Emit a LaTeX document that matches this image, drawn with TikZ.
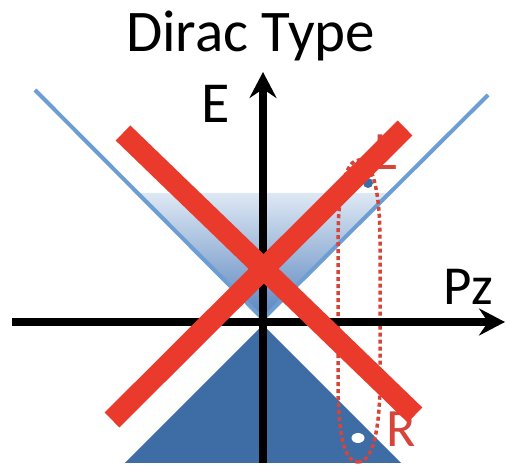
\documentclass[tikz,border=0pt]{standalone}
\usepackage{fontspec}
\setmainfont{Carlito}
\usetikzlibrary{
  arrows.meta  % 坐标轴箭头
}
\definecolor{conelight}{RGB}{108,158,212}
\definecolor{conedark}{RGB}{62,109,166}
\definecolor{conetop}{RGB}{222,232,244}
\definecolor{conemid}{RGB}{88,132,190}
\definecolor{crossred}{RGB}{234,58,44}
\definecolor{ringred}{RGB}{214,68,58}
\tikzset{
  axis line/.style={
    -{Stealth[length=26pt,width=27pt,inset=9pt]},
    line width=8pt,
    color=black
  },
  cone edge/.style={
    line width=4pt,
    color=conelight
  },
  cross bar/.style={
    line width=21pt,
    color=crossred
  },
  ring path/.style={
    color=ringred,
    line width=3.5pt,
    dash pattern=on 4pt off 3pt
  },
  axis label/.style={
    inner sep=0pt,
    anchor=base west
  },
  point label/.style={
    inner sep=0pt,
    anchor=base west,
    color=ringred,
    font=\fontsize{54}{60}\selectfont
  }
}

\begin{document}
\begin{tikzpicture}[x=1pt, y=1pt]
    \useasboundingbox (0,0) rectangle (509,465);

    % 1. 上锥面 (渐变填充) 与下锥面
    \shade[top color=conetop, bottom color=conemid]
      (263,146) -- (137,272) -- (389,272) -- cycle;
    \fill[conedark] (263,140) -- (125,2) -- (401,2) -- cycle;

    % 锥面边线
    \coordinate (apex) at (263,146);
    \coordinate (edgeL) at (35,375);
    \coordinate (edgeR) at (488,370);
    \draw[cone edge] (edgeL) -- (apex) -- (edgeR);

    % 点 L 与 R 的标记
    \fill[conedark] (368,282) circle (5);
    \fill[white] (358,27) ellipse [x radius=6.5, y radius=5];

    % 2. 虚线圈 (上端藏在红叉下)
    \draw[ring path] (358,3) .. controls (375,3) and (380,45) .. (380,85)
      -- (380,225) .. controls (380,275) and (372,305) .. (359,305)
      .. controls (346,305) and (338,275) .. (338,225)
      -- (338,85) .. controls (338,45) and (341,3) .. cycle;

    % 3. 坐标轴
    \coordinate (xstart) at (12,143);
    \coordinate (xend) at (505,143);
    \coordinate (ystart) at (263,2);
    \coordinate (yend) at (263,393);
    \draw[axis line] (xstart) -- (xend);
    \draw[axis line] (ystart) -- (yend);

    \node[axis label, font=\fontsize{59}{62}\selectfont] (title) at (126,413) {Dirac Type};
    \node[axis label, font=\fontsize{58}{60}\selectfont] (elabel) at (201,342) {E};
    \node[axis label, font=\fontsize{55}{60}\selectfont] (pzlabel) at (443,160) {Pz};

    % 点标签 (部分被红叉遮住)
    \node[point label] (llabel) at (374,295) {L};
    \node[point label] (rlabel) at (386,18) {R};

    % 4. 红色大叉
    \coordinate (barA1) at (123,332);
    \coordinate (barA2) at (415,50);
    \coordinate (barB1) at (112,45);
    \coordinate (barB2) at (405,337);
    \draw[cross bar] (barA1) -- (barA2);
    \draw[cross bar] (barB1) -- (barB2);

\end{tikzpicture}
\end{document}
